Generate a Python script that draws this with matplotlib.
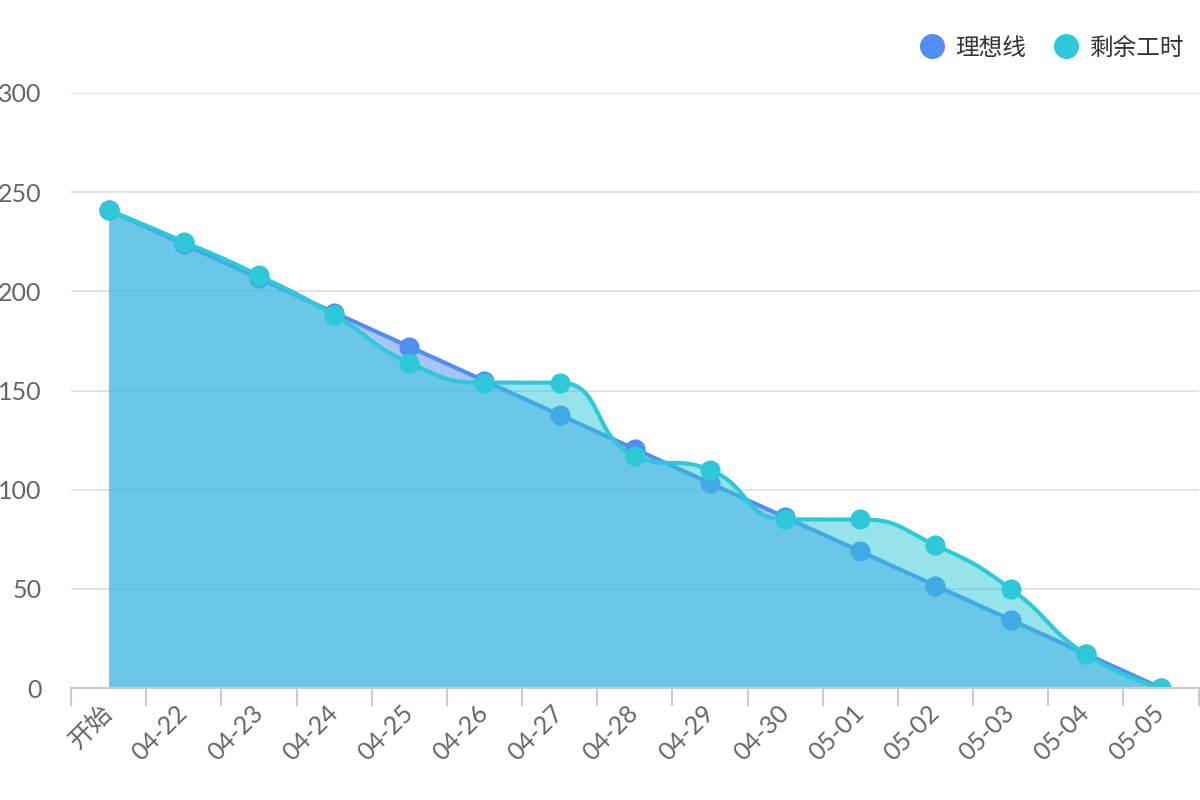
import numpy as np
import matplotlib
matplotlib.use("Agg")
import matplotlib.pyplot as plt
from matplotlib.lines import Line2D

plt.rcParams['font.family'] = ['Lato', 'Noto Sans CJK SC', 'DejaVu Sans']

categories = ["开始", "04-22", "04-23", "04-24", "04-25", "04-26", "04-27", "04-28",
              "04-29", "04-30", "05-01", "05-02", "05-03", "05-04", "05-05"]
ideal = [241, 223.8, 206.6, 189.3, 172.1, 154.9, 137.7, 120.5, 103.3, 86.1, 68.9, 51.6, 34.4, 17.2, 0]
remaining = [241, 225, 208, 188, 164, 154, 154, 117, 110, 85, 85, 72, 50, 17, 0]
series_names = ["理想线", "剩余工时"]
yticks = [0, 50, 100, 150, 200, 250, 300]

C_IDEAL = "#528CF5"
C_REM = "#2EC9D9"
TXT = "#666666"

fig = plt.figure(figsize=(12, 8), dpi=100)
ax = fig.add_axes([0.0592, 0.14, 0.9396, 0.74375])
ax.set_xlim(-0.5, len(categories) - 0.5)
ax.set_ylim(0, 300)

x = np.arange(len(categories))


def echarts_smooth(px, py, smooth=0.5, n=40):
    """ECharts-style smooth bezier through pixel points; returns sampled pixel arrays."""
    pts = list(zip(px, py))
    N = len(pts)
    out_x, out_y = [pts[0][0]], [pts[0][1]]
    cp0 = pts[0]
    for i in range(1, N):
        xi, yi = pts[i]
        pxv, pyv = pts[i - 1]
        if i == N - 1:
            cp1 = (xi, yi)
            ncp0 = None
        else:
            nx, ny = pts[i + 1]
            vx, vy = nx - pxv, ny - pyv
            dx0, dy0 = xi - pxv, yi - pyv
            dx1, dy1 = nx - xi, ny - yi
            lp = np.hypot(dx0, dy0)
            ln = np.hypot(dx1, dy1)
            r = ln / (ln + lp)
            ncx = xi + vx * smooth * r
            ncy = yi + vy * smooth * r
            ncx = min(ncx, max(nx, xi)); ncy = min(ncy, max(ny, yi))
            ncx = max(ncx, min(nx, xi)); ncy = max(ncy, min(ny, yi))
            vx, vy = ncx - xi, ncy - yi
            c1x = xi - vx * lp / ln
            c1y = yi - vy * lp / ln
            c1x = min(c1x, max(pxv, xi)); c1y = min(c1y, max(pyv, yi))
            c1x = max(c1x, min(pxv, xi)); c1y = max(c1y, min(pyv, yi))
            vx, vy = xi - c1x, yi - c1y
            ncx = xi + vx * ln / lp
            ncy = yi + vy * ln / lp
            cp1 = (c1x, c1y)
            ncp0 = (ncx, ncy)
        t = np.linspace(0, 1, n)[1:]
        p0 = pts[i - 1]
        bx = ((1 - t) ** 3) * p0[0] + 3 * ((1 - t) ** 2) * t * cp0[0] + 3 * (1 - t) * t ** 2 * cp1[0] + t ** 3 * xi
        by = ((1 - t) ** 3) * p0[1] + 3 * ((1 - t) ** 2) * t * cp0[1] + 3 * (1 - t) * t ** 2 * cp1[1] + t ** 3 * yi
        out_x.extend(bx); out_y.extend(by)
        cp0 = ncp0
    return np.array(out_x), np.array(out_y)


# grid
for v in yticks[1:]:
    ax.axhline(v, color="#E3E3E3", lw=1.4, zorder=0)

# ideal series (straight)
ax.fill_between(x, ideal, 0, color=C_IDEAL, alpha=0.5, lw=0, zorder=1)
ax.plot(x, ideal, color=C_IDEAL, lw=3, zorder=2, solid_capstyle='round')
ax.plot(x, ideal, ls='', marker='o', ms=13.5, color=C_IDEAL, mec=C_IDEAL, zorder=2)

# remaining series (smooth)
pix = ax.transData.transform(np.column_stack([x, remaining]))
sx, sy = echarts_smooth(pix[:, 0], pix[:, 1])
dat = ax.transData.inverted().transform(np.column_stack([sx, sy]))
ax.fill_between(dat[:, 0], dat[:, 1], 0, color=C_REM, alpha=0.5, lw=0, zorder=3)
ax.plot(dat[:, 0], dat[:, 1], color=C_REM, lw=3, zorder=4)
ax.plot(x, remaining, ls='', marker='o', ms=13.5, color=C_REM, mec=C_REM, zorder=5)

# axes styling
for s in ["top", "right", "left"]:
    ax.spines[s].set_visible(False)
ax.spines["bottom"].set_color("#CCCCCC")
ax.spines["bottom"].set_linewidth(1.5)
ax.spines["bottom"].set_zorder(6)

ax.set_yticks(yticks)
ax.set_yticklabels([str(v) for v in yticks], fontsize=18, color=TXT)
ax.tick_params(axis='y', length=0, pad=21)

ax.set_xticks(np.arange(len(categories) + 1) - 0.5, minor=False)
ax.set_xticklabels([])
ax.tick_params(axis='x', which='major', length=13, width=1.5, color="#CCCCCC", direction='out')
ax.set_xticks(x, minor=True)
ax.set_xticklabels(categories, minor=True, rotation=45, ha='right', va='center',
                   rotation_mode='anchor', fontsize=18, color=TXT)
ax.tick_params(axis='x', which='minor', length=0, pad=15)

# legend
handles = [Line2D([], [], ls='', marker='o', ms=17, color=C_IDEAL),
           Line2D([], [], ls='', marker='o', ms=17, color=C_REM)]
leg = fig.legend(handles, series_names, loc='upper right', bbox_to_anchor=(0.995, 0.966),
                 ncol=2, frameon=False, fontsize=17, handlelength=1.0, handletextpad=0.5,
                 columnspacing=1.2, borderaxespad=0)
for t in leg.get_texts():
    t.set_color("#333333")

fig.savefig("out.png", dpi=100)
